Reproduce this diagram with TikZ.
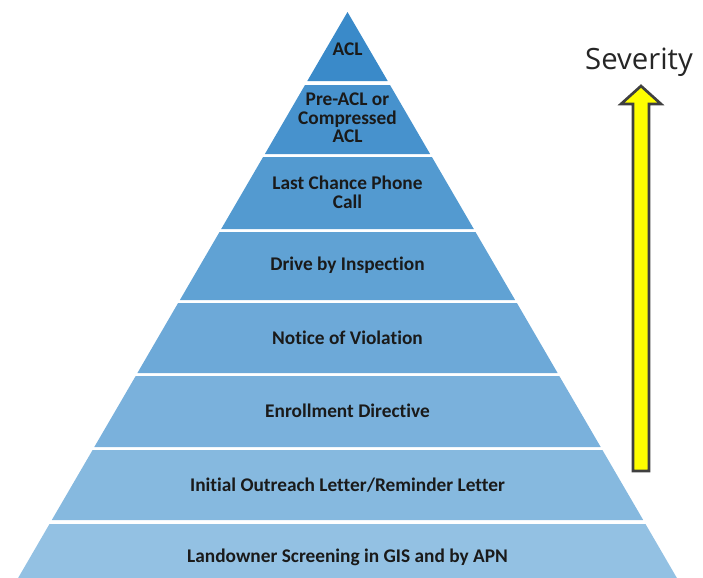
\documentclass[tikz,border=0pt]{standalone}
\usepackage{fontspec}
\setmainfont{Carlito}[Ligatures={NoCommon}]
\newfontfamily\sevfont{Open Sans}

\definecolor{lvlA}{RGB}{58,138,201}
\definecolor{lvlB}{RGB}{71,146,205}
\definecolor{lvlC}{RGB}{83,154,208}
\definecolor{lvlD}{RGB}{96,162,212}
\definecolor{lvlE}{RGB}{109,169,216}
\definecolor{lvlF}{RGB}{122,177,220}
\definecolor{lvlG}{RGB}{134,185,223}
\definecolor{lvlH}{RGB}{147,193,227}
\definecolor{arrowyel}{RGB}{255,255,0}
\definecolor{arrowedge}{RGB}{64,64,64}
\definecolor{lbltext}{RGB}{26,26,26}

\tikzset{every picture/.style={line width=0.75pt}}
\tikzset{lbl/.style={align=center,inner sep=0.75pt,text=lbltext,font=\bfseries\fontsize{14.5}{14}\selectfont}}

\begin{document}
\begin{tikzpicture}[x=0.75pt,y=0.75pt,yscale=-1,xscale=1]
\useasboundingbox (0,0) rectangle (703,578);

% Shape: Triangle
\fill [lvlA] (347.5,12) -- (387.7,81) -- (307.3,81) -- cycle ;
% Shape: Trapezoid
\fill [lvlB] (305,85) -- (390,85) -- (430.1,154) -- (264.9,154) -- cycle ;
% Shape: Trapezoid
\fill [lvlC] (263.1,157) -- (431.9,157) -- (473.8,229) -- (221.2,229) -- cycle ;
% Shape: Trapezoid
\fill [lvlD] (219.5,232) -- (475.5,232) -- (515.1,300) -- (179.9,300) -- cycle ;
% Shape: Trapezoid
\fill [lvlE] (178.1,303) -- (516.9,303) -- (557.6,373) -- (137.4,373) -- cycle ;
% Shape: Trapezoid
\fill [lvlF] (135.7,376) -- (559.3,376) -- (600.7,447) -- (94.3,447) -- cycle ;
% Shape: Trapezoid
\fill [lvlG] (92.6,450) -- (602.4,450) -- (643.2,520) -- (51.8,520) -- cycle ;
% Shape: Trapezoid
\fill [lvlH] (49.5,524) -- (645.5,524) -- (676.9,578) -- (18.1,578) -- cycle ;

% Text Node
\draw (347.5,49) node [lbl] (acl) {ACL};
% Text Node
\draw (347.5,118) node [lbl] (preacl) {Pre-ACL or\\Compressed\\ACL};
% Text Node
\draw (347.5,192) node [lbl] (phone) {Last Chance Phone\\Call};
% Text Node
\draw (347.5,265) node [lbl] (drive) {Drive by Inspection};
% Text Node
\draw (347.5,338) node [lbl] (nov) {Notice of Violation};
% Text Node
\draw (347.5,411) node [lbl] (enroll) {Enrollment Directive};
% Text Node
\draw (347.5,485) node [lbl] (outreach) {Initial Outreach Letter/Reminder Letter};
% Text Node
\draw (347.5,557) node [lbl] (screen) {Landowner Screening in GIS and by APN};

% Shape: Arrow
\draw [color=arrowedge, fill=arrowyel, line width=2pt, line join=miter] (633,471) -- (633,104) -- (621,104) -- (641,86) -- (661,104) -- (649,104) -- (649,471) -- cycle ;
% Text Node
\draw (639,62) node [inner sep=0.75pt, text=black!85, font=\sevfont\fontsize{22}{26}\selectfont] (sev) {Severity};

\end{tikzpicture}
\end{document}
